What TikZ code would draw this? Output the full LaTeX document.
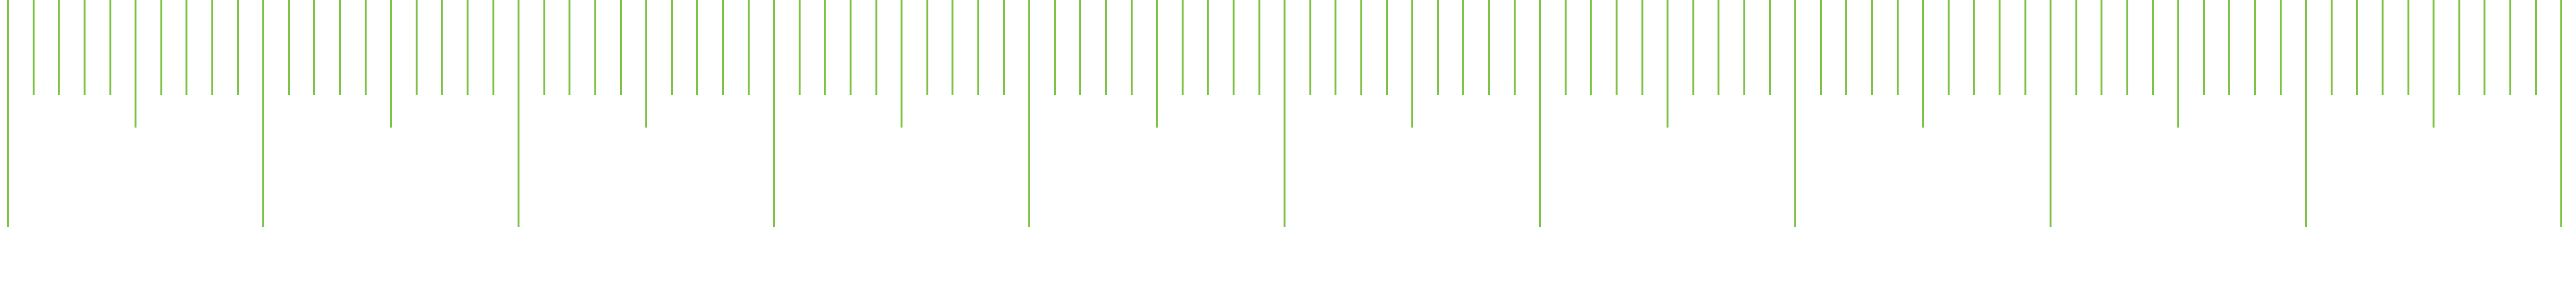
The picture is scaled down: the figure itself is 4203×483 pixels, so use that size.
\documentclass[tikz,border=0pt]{standalone}
\usepackage{tikz}
\definecolor{rulegreen}{RGB}{125,194,66}

\begin{document}
\begin{tikzpicture}[x=0.1mm,y=0.1mm,
  tick/.style={draw=rulegreen,line width=0.3mm}]

  \useasboundingbox (0,0) rectangle (4203,483);

  % Ruler ticks: long every 10, medium every 5
  \foreach \i in {0,...,100} {
    \pgfmathsetmacro{\len}{mod(\i,10)==0 ? 370 : (mod(\i,5)==0 ? 208 : 155)}
    \draw[tick] ({13+41.66*\i},483) -- ++(0,-\len);
  }

\end{tikzpicture}
\end{document}
